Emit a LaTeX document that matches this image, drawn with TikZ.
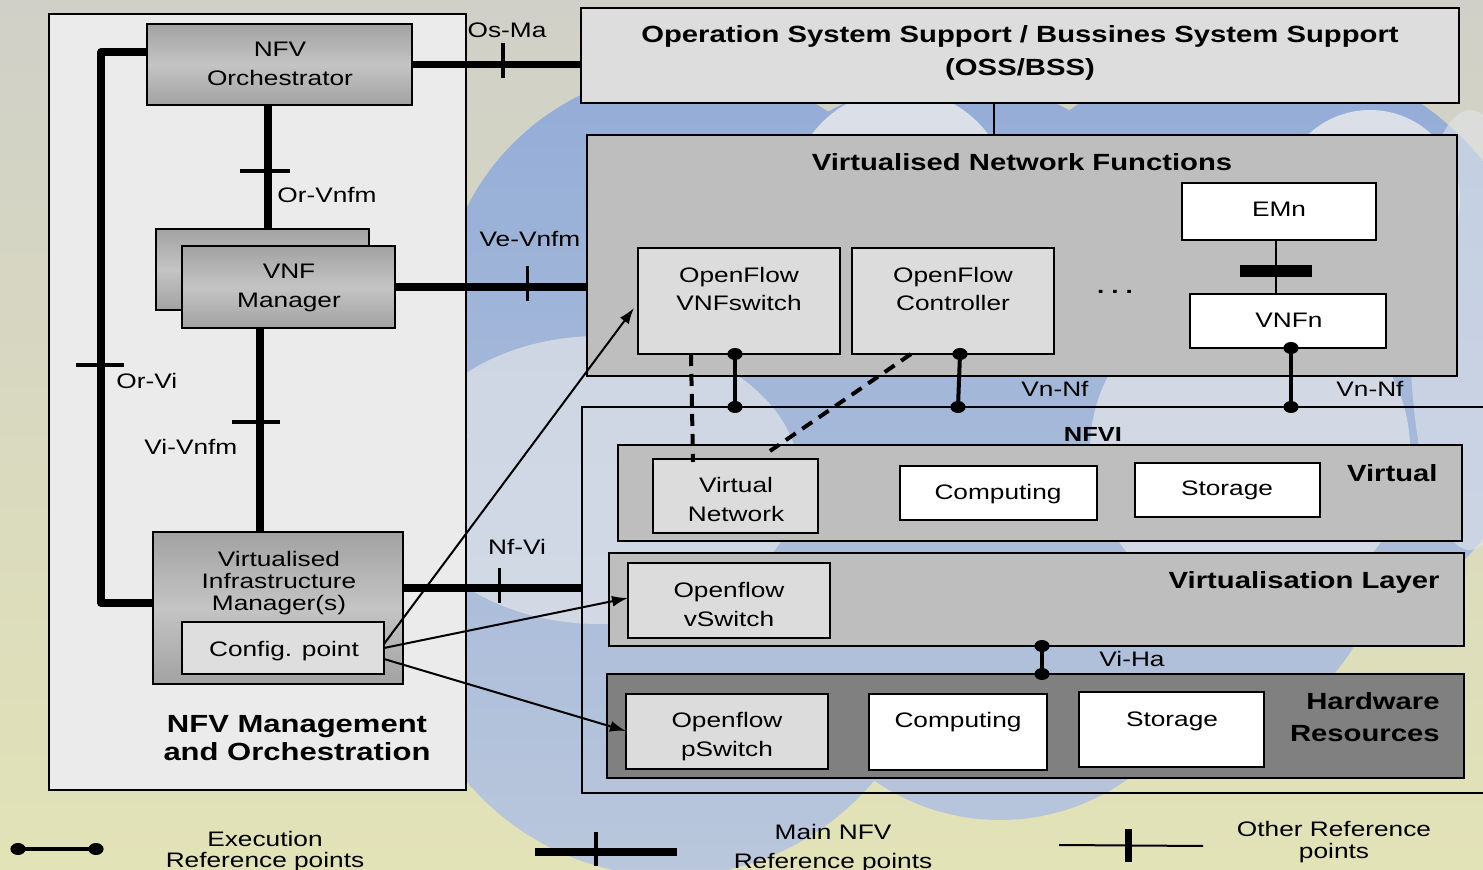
\documentclass[tikz,border=0pt]{standalone}
\usepackage{fontspec}
\setmainfont{Liberation Sans}[FakeStretch=1.25]
\usetikzlibrary{fit,arrows.meta,calc}
\definecolor{bgtop}{HTML}{D0D0C8}
\definecolor{bgbot}{HTML}{E2E3B6}
\definecolor{cloudtop}{HTML}{93ACD7}
\definecolor{cloudmid}{HTML}{7698CC}
\definecolor{cloudbot}{HTML}{BAC7DC}
\definecolor{lobe}{HTML}{E2E5EA}
\definecolor{manofill}{HTML}{EBEBEB}
\definecolor{ossfill}{HTML}{DDDDDD}
\definecolor{midgray}{HTML}{BEBEBE}
\definecolor{lightbox}{HTML}{DCDCDC}
\definecolor{hwfill}{HTML}{808080}
\definecolor{gdark}{HTML}{A2A2A2}
\definecolor{glight}{HTML}{C4C4C4}
\newcommand\xdot[1]{\fill (#1) ellipse[x radius=3.8pt, y radius=3pt];}
\begin{document}
\begin{tikzpicture}[x=0.5pt,y=-0.5pt,
  frame/.style={draw=black, line width=1pt, inner sep=0pt, outer sep=0pt},
  gbox/.style={frame, top color=gdark, bottom color=gdark, middle color=glight},
  lbox/.style={frame, fill=lightbox},
  wbox/.style={frame, fill=white},
  graybox/.style={frame, fill=midgray},
  txt/.style={font=\fontsize{10.5}{14.5}\selectfont, align=center, anchor=base, inner sep=0pt},
  btxt/.style={font=\bfseries\fontsize{11.7}{16.5}\selectfont, align=center, anchor=base, inner sep=0pt},
  mainref/.style={line width=3.8pt},
  thintick/.style={line width=1.8pt},
  otherref/.style={line width=1pt},
  thicktick/.style={line width=3.5pt},
  execref/.style={line width=2pt},
  dashref/.style={line width=2pt, dash pattern=on 6pt off 4pt},
  cfgarrow/.style={line width=1pt, -{Latex[length=8pt,width=5.5pt]}}
]
\useasboundingbox (0,0) rectangle (1483,870);
% background
\shade[top color=bgtop, bottom color=bgbot] (0,0) rectangle (1483,870);
% cloud
\shade[top color=cloudtop, middle color=cloudmid, bottom color=cloudbot]
  (690,320) circle[radius=125pt] (950,330) circle[radius=125pt]
  (1250,350) circle[radius=150pt] (670,610) circle[radius=133pt]
  (1000,600) circle[radius=110pt] (1150,520) circle[radius=120pt]
  (820,480) circle[radius=150pt];
\fill[lobe, opacity=0.7] (600,480) ellipse[x radius=100pt, y radius=72pt];
\fill[lobe, opacity=0.9] (900,200) circle[radius=55pt];
\fill[lobe, opacity=0.9] (1370,200) circle[radius=45pt];
\fill[lobe, opacity=0.75] (1250,450) circle[radius=80pt];
\fill[lobe, opacity=0.6] (1470,330) ellipse[x radius=30pt, y radius=110pt];

% MANO block
\node[frame, fill=manofill, fit={(49,14)(466,790)}] (mano) {};
\node[gbox, fit={(147,24)(412,105)}] (orch) {};
\node[gbox, fit={(156,229)(369,310)}] (vnfmb) {};
\node[gbox, fit={(182,246)(395,328)}] (vnfm) {};
\node[gbox, fit={(153,532)(403,684)}] (vim) {};
\node[frame, fill=lightbox!95!white, fit={(182,622)(384,674)}] (cfg) {};
\node[txt] (orchT) at (280,86) {NFV\\Orchestrator};
\node[txt] (vnfmT) at (289,308) {VNF\\Manager};
\node[txt, font=\fontsize{10.5}{11.2}\selectfont] (vimT) at (279,611) {Virtualised\\Infrastructure\\Manager(s)};
\node[txt] (cfgT) at (284,657) {Config. point};
\node[txt, font=\bfseries\fontsize{12.4}{14}\selectfont] (manoT) at (297,761) {NFV Management\\and Orchestration};

% OSS/BSS
\node[frame, fill=ossfill, fit={(581,8)(1459,103)}] (oss) {};
\node[btxt] (ossT) at (1020,76) {Operation System Support / Bussines System Support\\(OSS/BSS)};

% VNF block
\node[graybox, fit={(587,135)(1457,376)}] (vnf) {};
\node[btxt] (vnfT) at (1022,171) {Virtualised Network Functions};
\node[lbox, fit={(638,248)(840,354)}] (vnfsw) {};
\node[txt, font=\fontsize{10.5}{14}\selectfont] (vnfswT) at (739,311) {OpenFlow\\VNFswitch};
\node[lbox, fit={(852,248)(1054,354)}] (ctrl) {};
\node[txt, font=\fontsize{10.5}{14}\selectfont] (ctrlT) at (953,311) {OpenFlow\\Controller};
\node[txt, font=\bfseries\fontsize{10.5}{12}\selectfont] (dotsT) at (1115,294) {.\,\,.\,\,.};
\node[wbox, fit={(1182,183)(1376,240)}] (emn) {};
\node[txt] (emnT) at (1279,217) {EMn};
\node[wbox, fit={(1190,294)(1386,348)}] (vnfn) {};
\node[txt] (vnfnT) at (1289,328) {VNFn};

% NFVI block
\node[frame, fit={(582,407)(1520,793)}] (nfvi) {};
\node[btxt, font=\bfseries\fontsize{10.2}{12}\selectfont] (nfviT) at (1093,442) {NFVI};
\node[graybox, fit={(618,445)(1462,541)}] (virt) {};
\node[btxt, anchor=base east] (virtT) at (1438,482) {Virtual};
\node[lbox, fit={(653,459)(818,533)}] (vnet) {};
\node[txt] (vnetT) at (736,522) {Virtual\\Network};
\node[wbox, fit={(900,466)(1097,520)}] (compv) {};
\node[txt] (compvT) at (998,500) {Computing};
\node[wbox, fit={(1135,463)(1320,517)}] (storv) {};
\node[txt] (storvT) at (1227,496) {Storage};

\node[graybox, fit={(609,553)(1464,646)}] (vlayer) {};
\node[btxt, anchor=base east] (vlayerT) at (1440,589) {Virtualisation Layer};
\node[lbox, fit={(628,563)(830,638)}] (vsw) {};
\node[txt] (vswT) at (729,627) {Openflow\\vSwitch};

\node[frame, fill=hwfill, fit={(607,674)(1464,778)}] (hw) {};
\node[btxt, anchor=base east, align=right] (hwT) at (1440,742) {Hardware\\Resources};
\node[lbox, fit={(626,694)(828,769)}] (psw) {};
\node[txt] (pswT) at (727,757) {Openflow\\pSwitch};
\node[wbox, fit={(869,694)(1047,770)}] (comph) {};
\node[txt] (comphT) at (958,728) {Computing};
\node[wbox, fit={(1079,692)(1264,767)}] (storh) {};
\node[txt] (storhT) at (1172,727) {Storage};

% main reference points
\draw[mainref] (orch.east) -- coordinate[pos=0.54] (tOsMa) (orch.east -| oss.west);
\draw[thintick] ($(tOsMa)+(0,-21)$) -- ($(tOsMa)+(0,14)$);
\node[txt] (osmaT) at (507,38) {Os-Ma};

\draw[mainref] (orch.south -| 268,0) -- coordinate[pos=0.53] (tOrVnfm) (vnfmb.north -| 268,0);
\draw[thintick] ($(tOrVnfm)+(-28,0)$) -- ($(tOrVnfm)+(22,0)$);
\node[txt, anchor=base west] (orvnfmT) at (277,203) {Or-Vnfm};

\draw[mainref] (vnfm.south -| 260,0) -- coordinate[pos=0.46] (tViVnfm) (vim.north -| 260,0);
\draw[thintick] ($(tViVnfm)+(-28,0)$) -- ($(tViVnfm)+(20,0)$);
\node[txt, anchor=base west] (vivnfmT) at (144,455) {Vi-Vnfm};

\coordinate (orviC) at (101,330);
\draw[mainref, line join=round] (orch.west |- 0,52) -| (orviC) |- (vim.west |- 0,603);
\coordinate (tOrVi) at (101,365);
\draw[thintick] ($(tOrVi)+(-25,0)$) -- ($(tOrVi)+(23,0)$);
\node[txt, anchor=base west] (orviT) at (116,389) {Or-Vi};

\draw[mainref] (vnfm.east) -- coordinate[pos=0.69] (tVeVnfm) (vnfm.east -| vnf.west);
\draw[thintick] ($(tVeVnfm)+(0,-21)$) -- ($(tVeVnfm)+(0,14)$);
\node[txt] (vevnfmT) at (530,247) {Ve-Vnfm};

\draw[mainref] (vim.east |- 0,588) -- coordinate[pos=0.54] (tNfVi) (nfvi.west |- 0,588);
\draw[thintick] ($(tNfVi)+(0,-20)$) -- ($(tNfVi)+(0,15)$);
\node[txt] (nfviLbl) at (517,555) {Nf-Vi};

% OSS to VNF
\draw[line width=1.4pt] (oss.south -| 994,0) -- (vnf.north -| 994,0);

% EMn - VNFn other reference point
\draw[otherref] (emn.south -| 1276,0) -- coordinate[pos=0.57] (tEm) (vnfn.north -| 1276,0);
\draw[line width=6pt] ($(tEm)+(-36,0)$) -- ($(tEm)+(36,0)$);

% execution reference points
\draw[execref] (vnfsw.south -| 735,0) -- (nfvi.north -| 735,0);
\xdot{vnfsw.south -| 735,0} \xdot{nfvi.north -| 735,0}
\draw[execref] (ctrl.south -| 960,0) -- (nfvi.north -| 958,0);
\xdot{ctrl.south -| 960,0} \xdot{nfvi.north -| 958,0}
\draw[execref] (vnfn.south -| 1291,0) -- (nfvi.north -| 1291,0);
\xdot{vnfn.south -| 1291,0} \xdot{nfvi.north -| 1291,0}
\node[txt, anchor=base west] (vnnf1T) at (1021,397) {Vn-Nf};
\node[txt, anchor=base west] (vnnf2T) at (1336,397) {Vn-Nf};
\draw[execref] (vlayer.south -| 1042,0) -- (hw.north -| 1042,0);
\xdot{vlayer.south -| 1042,0} \xdot{hw.north -| 1042,0}
\node[txt, anchor=base west] (vihaT) at (1099,667) {Vi-Ha};

% dashed links
\draw[dashref] (vnfsw.south -| 691,0) -- ($(vnet.north -| 693,0)+(0,3)$);
\draw[dashref] (ctrl.south -| 911,0) -- ($(vnet.north east)+(-48,-8)$);

% config arrows
\draw[cfgarrow] (cfg.east |- 0,644) -- ($(vnfsw.west |- 0,308)+(-4,0)$);
\draw[cfgarrow] (cfg.east |- 0,648) -- (vsw.west |- 0,598);
\draw[cfgarrow] (cfg.east |- 0,659) -- (psw.west |- 0,731);

% legend
\coordinate (le1) at (18,849); \coordinate (le2) at (96,849);
\draw[execref] (le1) -- (le2); \xdot{le1} \xdot{le2}
\node[txt, font=\fontsize{10.5}{10.5}\selectfont] (leT) at (265,867) {Execution\\Reference points};
\coordinate (lm1) at (535,852); \coordinate (lm2) at (677,852);
\draw[mainref] (lm1) -- coordinate[pos=0.43] (lmt) (lm2);
\draw[thintick] ($(lmt)+(0,-20)$) -- ($(lmt)+(0,14)$);
\node[txt] (lmT) at (833,868) {Main NFV\\Reference points};
\coordinate (lo1) at (1059,845); \coordinate (lo2) at (1203,846);
\draw[otherref] (lo1) -- coordinate[pos=0.48] (lot) (lo2);
\draw[thicktick] ($(lot)+(0,-16)$) -- ($(lot)+(0,17)$);
\node[txt, font=\fontsize{10.5}{11}\selectfont] (loT) at (1334,858) {Other Reference\\points};
\end{tikzpicture}
\end{document}
